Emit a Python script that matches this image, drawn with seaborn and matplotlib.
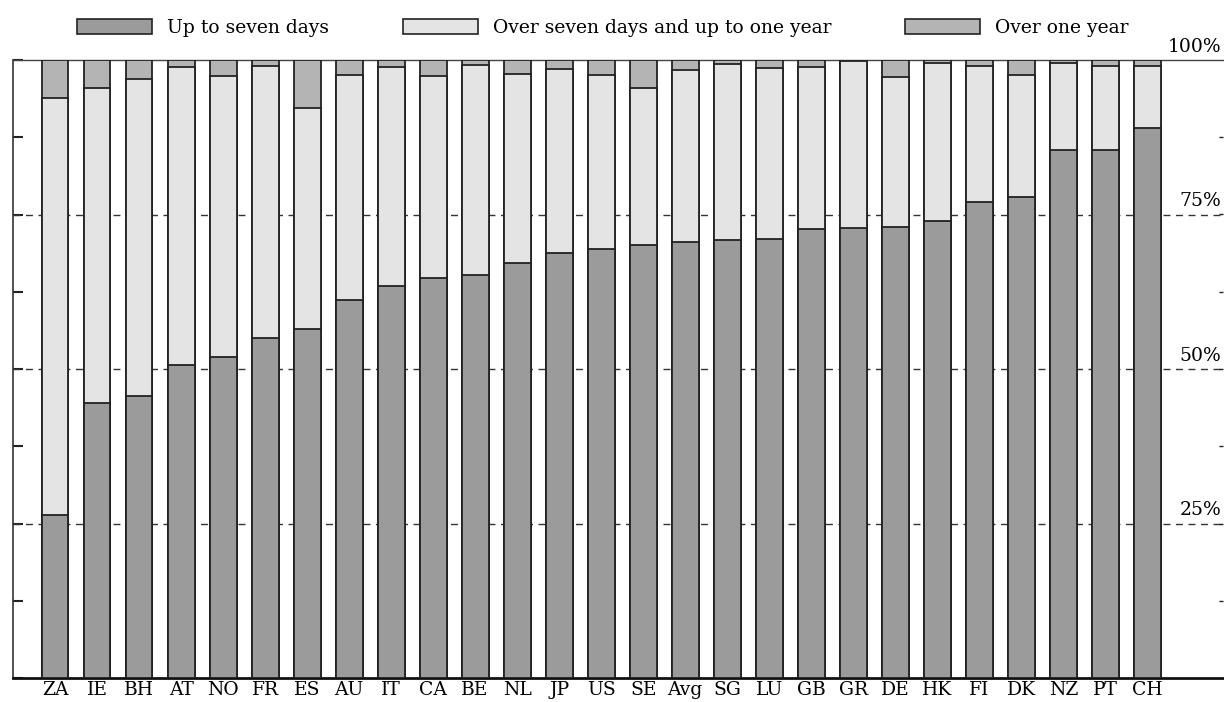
import matplotlib
matplotlib.use("Agg")
import matplotlib.pyplot as plt
import seaborn as sns
import pandas as pd
from matplotlib.patches import Patch

countries = ["ZA", "IE", "BH", "AT", "NO", "FR", "ES", "AU", "IT", "CA", "BE", "NL", "JP", "US",
             "SE", "Avg", "SG", "LU", "GB", "GR", "DE", "HK", "FI", "DK", "NZ", "PT", "CH"]
up_to_seven_days = [26.4, 44.5, 45.6, 50.6, 51.9, 55.0, 56.5, 61.1, 63.4, 64.7, 65.2, 67.2, 68.8, 69.4,
                    70.1, 70.6, 70.9, 71.0, 72.7, 72.8, 73.0, 73.9, 77.0, 77.8, 85.4, 85.4, 89.0]
seven_days_to_one_year = [67.4, 50.9, 51.4, 48.3, 45.5, 44.0, 35.7, 36.4, 35.5, 32.7, 34.0, 30.6, 29.8, 28.1,
                          25.4, 27.8, 28.5, 27.7, 26.2, 27.0, 24.2, 25.6, 22.0, 19.8, 14.1, 13.7, 10.1]
over_one_year = [6.2, 4.6, 3.0, 1.1, 2.6, 1.0, 7.8, 2.5, 1.1, 2.6, 0.8, 2.2, 1.4, 2.5,
                 4.5, 1.6, 0.6, 1.3, 1.1, 0.2, 2.8, 0.5, 1.0, 2.4, 0.5, 0.9, 0.9]

series_names = ["Up to seven days", "Over seven days and up to one year", "Over one year"]
series_colors = ["#9b9b9b", "#e4e4e4", "#b4b4b4"]
right_labels = [25, 50, 75, 100]
grid_levels = [25, 50, 75]

df = pd.DataFrame({"country": countries,
                   "s1": up_to_seven_days,
                   "s2": seven_days_to_one_year,
                   "s3": over_one_year})
df["c1"] = df["s1"]
df["c2"] = df["s1"] + df["s2"]
df["c3"] = df["c2"] + df["s3"]

sns.set_style("white")
plt.rcParams["font.family"] = ["DejaVu Serif"]
plt.rcParams["font.size"] = 13.5
plt.rcParams["text.color"] = "black"
plt.rcParams["xtick.labelcolor"] = "black"

fig = plt.figure(figsize=(12.24, 7.02), dpi=100)
ax = fig.add_axes([13 / 1224, 24 / 702, 1210 / 1224, 618 / 702])

edge = "#222222"
for col, color in zip(["c3", "c2", "c1"], series_colors[::-1]):
    sns.barplot(data=df, x="country", y=col, color=color, width=0.64, edgecolor=edge,
                linewidth=1.3, saturation=1, ax=ax, zorder=3)

for lvl in grid_levels:
    ax.axhline(lvl, color="#333333", lw=1.0, ls=(0, (5, 4)), zorder=1)

ax.set_xlim(-1, 27.8)
ax.set_ylim(0, 100)
ax.set_xlabel("")
ax.set_ylabel("")
ax.set_yticks([i * 12.5 for i in range(9)])
ax.set_yticklabels([])
ax.tick_params(axis="y", direction="in", length=7, width=1.5, color="#222222", left=True)
ax.tick_params(axis="x", length=0, pad=2, labelsize=13.5, labelcolor="black")

ax2 = ax.twinx()
ax2.set_ylim(0, 100)
ax2.set_yticks([i * 12.5 for i in range(1, 8)])
ax2.set_yticklabels([])
ax2.tick_params(axis="y", direction="in", length=3, width=1, color="#222222", right=True)
for s in ax2.spines.values():
    s.set_visible(False)

ax.spines["right"].set_visible(False)
ax.spines["top"].set_color("#444444")
ax.spines["top"].set_linewidth(1.0)
ax.spines["bottom"].set_color("#111111")
ax.spines["bottom"].set_linewidth(2.0)
ax.spines["left"].set_color("#333333")
ax.spines["left"].set_linewidth(1.2)

for v in right_labels:
    ax.annotate(f"{v}%", xy=(0.9985, v), xycoords=("axes fraction", "data"),
                xytext=(0, 3), textcoords="offset points", ha="right", va="bottom",
                fontsize=13.5, color="black")

handles = [Patch(facecolor=c, edgecolor=edge, linewidth=1.2) for c in series_colors]
fig.legend(handles, series_names, loc="upper center", bbox_to_anchor=(0.4925, 1.0), ncol=3,
           frameon=False, handlelength=4.0, handleheight=0.85, handletextpad=0.8,
           columnspacing=3.93, fontsize=13.5, borderaxespad=0.6, labelcolor="black")

fig.savefig("out.png", dpi=100)
